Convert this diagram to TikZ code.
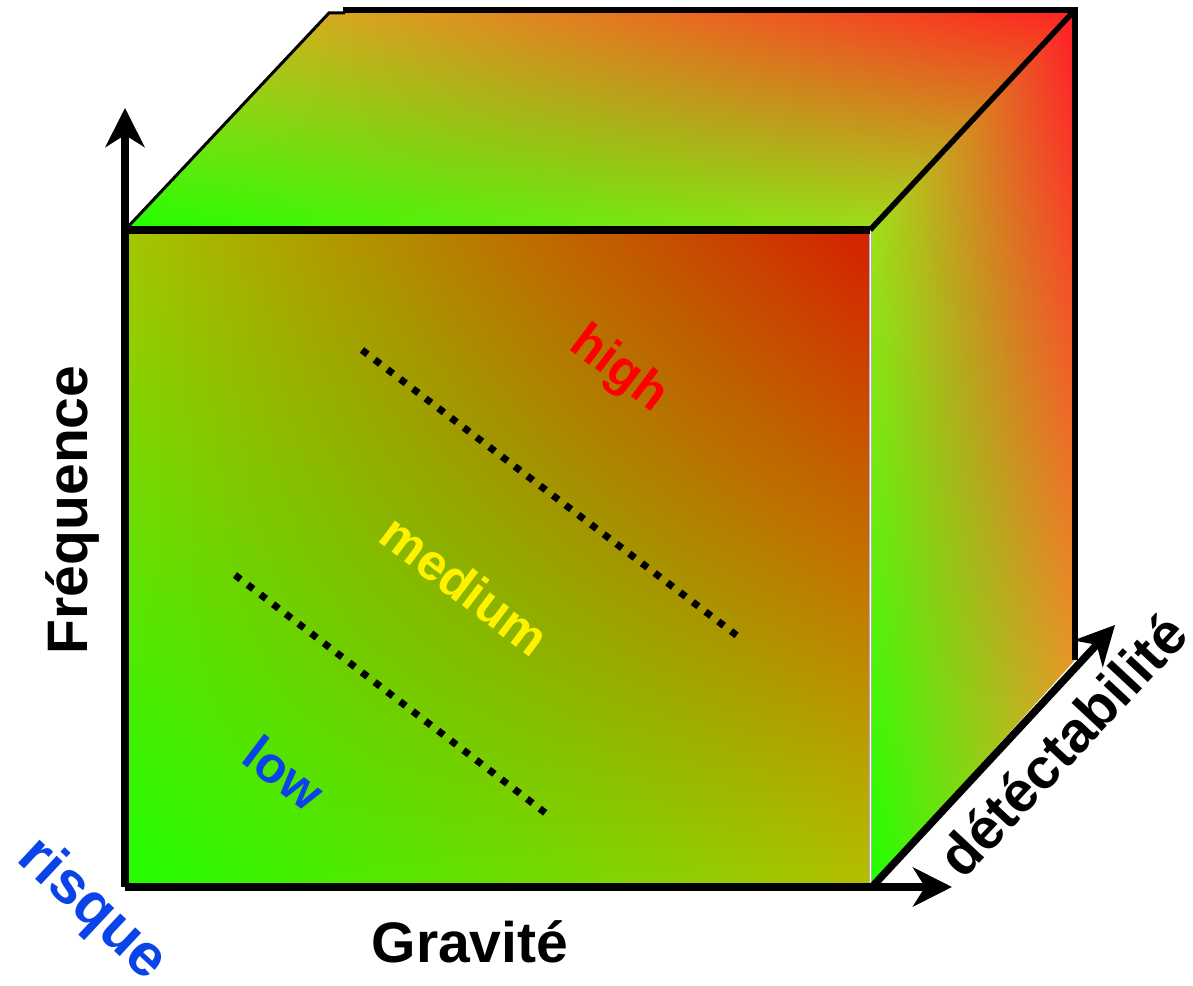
\documentclass[tikz,border=0pt]{standalone}
\usepackage{fontspec}
\setmainfont{Liberation Sans}
\usepackage{tikz}
\usetikzlibrary{arrows.meta, shadings}

\definecolor{lowgreen}{RGB}{32,255,0}
\definecolor{frontred}{RGB}{212,32,0}
\definecolor{topred}{RGB}{255,34,34}
\definecolor{sidered}{RGB}{255,26,40}
\definecolor{lowblue}{RGB}{10,68,232}

\begin{document}
\begin{tikzpicture}[x=0.02cm, y=0.02cm,
  edge/.style={line width=0.16cm},
  thinedge/.style={line width=0.06cm},
  axis/.style={line width=0.15cm, -{Stealth[length=0.78cm, width=0.78cm, inset=0.24cm]}},
  level/.style={line width=0.14cm, dash pattern=on 0.14cm off 0.18cm},
  axislabel/.style={font=\fontsize{32.5}{36}\selectfont\bfseries},
  zonelabel/.style={font=\fontsize{29}{32}\selectfont\bfseries, rotate=-37}]
\useasboundingbox (0,0) rectangle (1193,986);

% corners of the cube
\coordinate (O) at (125,99);
\coordinate (A) at (870,99);
\coordinate (B) at (870,756);
\coordinate (C) at (125,756);
\coordinate (D) at (329,973);
\coordinate (E) at (1075,976);
\coordinate (F) at (1075,326);

% faces
\shade[lower left=lowgreen, upper right=frontred,
       upper left={rgb,255:red,165;green,198;blue,0},
       lower right={rgb,255:red,180;green,192;blue,0}]
  (O) -- (A) -- (B) -- (C) -- cycle;
\shade[lower left=lowgreen, upper right=topred,
       upper left={rgb,255:red,205;green,205;blue,31},
       lower right={rgb,255:red,190;green,215;blue,31}]
  (C) -- (D) -- (E) -- (B) -- cycle;
\shade[lower left=lowgreen, upper right=sidered,
       upper left={rgb,255:red,200;green,215;blue,32},
       lower right={rgb,255:red,225;green,190;blue,40}]
  (A) -- (B) -- (E) -- (F) -- cycle;

% edges
\draw[gray!60, line width=0.06cm] (A) -- (B);
\draw[white, line width=0.02cm] (A) -- (B);
\draw[thinedge] (C) -- (D) -- (345,973);
\draw[line width=0.13cm] (343,976) -- (E) -- (F);
\draw[line width=0.11cm] (B) -- (E);
\draw[edge] (C) -- (B);

% levels
\draw[level] (362,636) -- (740,348);
\draw[level] (235,411) -- (548,171);

% axes
\coordinate (freqtip) at (125,878);
\coordinate (gravtip) at (952,99);
\coordinate (dstart) at (872,99);
\coordinate (dettip) at (1115,361);
\draw[axis] (O) -- (freqtip);
\draw[axis] (O) -- (gravtip);
\draw[axis] (dstart) -- (dettip);

% labels
\node[axislabel, rotate=90] (freq) at (72,476) {Fréquence};
\node[axislabel] (grav) at (470,44) {Gravité};
\node[axislabel, rotate=47] (detect) at (1062,241) {détéctabilité};
\node[axislabel, rotate=-43, text=lowblue, font=\fontsize{34}{38}\selectfont\bfseries] (risk) at (92,76) {risque};
\node[zonelabel, text=red] (high) at (618,616) {high};
\node[zonelabel, text=yellow] (medium) at (465,401) {medium};
\node[zonelabel, text=lowblue] (low) at (284,213) {low};
\end{tikzpicture}
\end{document}
